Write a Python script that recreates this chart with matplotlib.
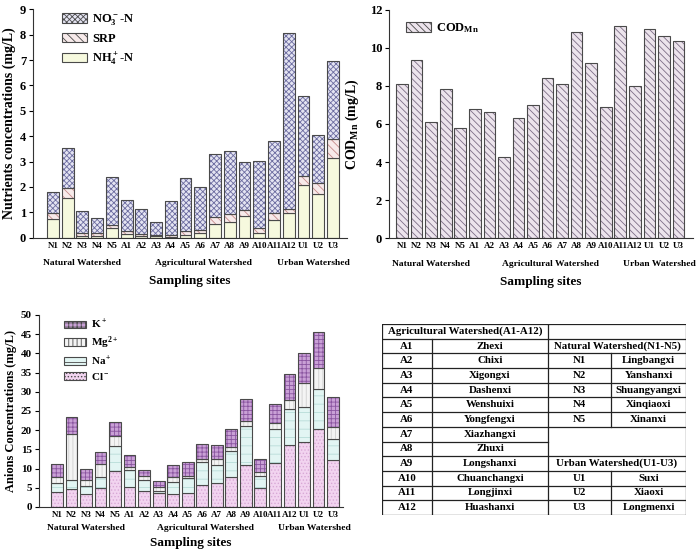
import matplotlib
matplotlib.use("Agg")
import matplotlib.pyplot as plt
import numpy as np

plt.rcParams['font.family'] = ['Liberation Serif', 'DejaVu Serif']
plt.rcParams['font.weight'] = 'bold'
plt.rcParams['axes.labelweight'] = 'bold'
plt.rcParams['mathtext.fontset'] = 'custom'
plt.rcParams['mathtext.rm'] = 'Liberation Serif:bold'
plt.rcParams['mathtext.it'] = 'Liberation Serif:bold'
plt.rcParams['mathtext.bf'] = 'Liberation Serif:bold'
plt.rcParams['hatch.linewidth'] = 0.6

sites = ["N1", "N2", "N3", "N4", "N5", "A1", "A2", "A3", "A4", "A5", "A6", "A7",
         "A8", "A9", "A10", "A11", "A12", "U1", "U2", "U3"]
groups = ["Natural Watershed", "Agricultural Watershed", "Urban Watershed"]
group_pos = [2.0, 10.2, 17.7]

# Nutrients (mg/L)
nh4 = [0.72, 1.58, 0.08, 0.05, 0.40, 0.15, 0.08, 0.05, 0.04, 0.12, 0.20, 0.53,
       0.63, 0.85, 0.17, 0.68, 0.98, 2.07, 1.73, 3.16]
srp = [0.25, 0.39, 0.12, 0.15, 0.12, 0.10, 0.06, 0.05, 0.06, 0.16, 0.12, 0.27,
       0.30, 0.23, 0.21, 0.28, 0.16, 0.38, 0.41, 0.72]
no3 = [0.85, 1.56, 0.87, 0.59, 1.88, 1.22, 0.98, 0.50, 1.34, 2.06, 1.67, 2.48,
       2.48, 1.92, 2.65, 2.86, 6.94, 3.15, 1.90, 3.08]

# COD_Mn (mg/L)
cod = [8.12, 9.35, 6.13, 7.85, 5.77, 6.80, 6.63, 4.27, 6.30, 7.00, 8.43, 8.12,
       10.83, 9.20, 6.92, 11.15, 8.00, 11.00, 10.62, 10.35]

# Ions (mg/L)
cl = [4.0, 4.7, 3.3, 5.0, 9.5, 5.3, 4.2, 3.6, 3.4, 3.6, 5.6, 6.3, 7.9, 11.0,
      4.9, 11.5, 16.1, 17.0, 20.4, 12.2]
na = [2.3, 2.3, 2.2, 2.8, 6.4, 4.4, 2.8, 0.5, 3.1, 3.9, 6.0, 4.6, 6.7, 10.1,
      3.2, 8.8, 9.4, 9.0, 10.3, 5.5]
mg = [1.5, 12.0, 1.6, 3.4, 2.5, 0.7, 1.1, 1.1, 1.3, 0.7, 1.0, 1.5, 1.0, 1.3,
      0.9, 1.5, 2.3, 6.2, 5.4, 3.2]
k = [3.4, 4.4, 2.9, 3.2, 3.8, 3.1, 1.6, 1.6, 3.2, 3.4, 3.7, 3.8, 4.7, 5.7,
     3.6, 5.0, 6.9, 7.9, 9.5, 7.7]

# Table contents
agri_codes = ["A1", "A2", "A3", "A4", "A5", "A6", "A7", "A8", "A9", "A10", "A11", "A12"]
agri_names = ["Zhexi", "Chixi", "Xigongxi", "Dashenxi", "Wenshuixi", "Yongfengxi",
              "Xiazhangxi", "Zhuxi", "Longshanxi", "Chuanchangxi", "Longjinxi", "Huashanxi"]
nat_codes = ["N1", "N2", "N3", "N4", "N5"]
nat_names = ["Lingbangxi", "Yanshanxi", "Shuangyangxi", "Xinqiaoxi", "Xinanxi"]
urb_codes = ["U1", "U2", "U3"]
urb_names = ["Suxi", "Xiaoxi", "Longmenxi"]

W, H = 699, 555
fig = plt.figure(figsize=(W / 100, H / 100), dpi=100)
x = np.arange(len(sites))
bw = 0.8
EDGE = '#4a4a4a'


def hbar(ax, vals, bottom, face, hatch, hcol):
    ax.bar(x, vals, bw, bottom=bottom, color=face, hatch=hatch, edgecolor=hcol,
           linewidth=0)
    ax.bar(x, vals, bw, bottom=bottom, fill=False, edgecolor=EDGE, linewidth=0.8)
    return plt.Rectangle((0, 0), 1, 1, facecolor=face, hatch=hatch, edgecolor=hcol, linewidth=0)


def style_axis(ax, ymax, ystep, ylabel, lpad, goff, soff, ysize=10.5, tsize=9):
    ax.spines['top'].set_visible(False)
    ax.spines['right'].set_visible(False)
    ax.spines['left'].set_color('#333333')
    ax.spines['bottom'].set_color('#333333')
    ax.set_ylim(0, ymax)
    ax.set_yticks(np.arange(0, ymax + 0.01, ystep))
    ax.set_xticks(x)
    ax.set_xticklabels(sites, fontsize=6.5, fontweight='bold')
    ax.tick_params(axis='x', length=0, pad=3)
    ax.tick_params(axis='y', labelsize=tsize, length=3, direction='out', width=0.8, pad=2)
    ax.set_ylabel(ylabel, fontsize=ysize, fontweight='bold', labelpad=lpad)
    for g, gp in zip(groups, group_pos):
        ax.annotate(g, xy=(gp, 0), xycoords=('data', 'axes fraction'),
                    xytext=(0, -goff), textcoords='offset points', ha='center', va='center',
                    fontsize=6.8, fontweight='bold')
    ax.annotate("Sampling sites", xy=(0.5, 0), xycoords='axes fraction',
                xytext=(0, -soff), textcoords='offset points', ha='center', va='center',
                fontsize=9.5, fontweight='bold')


def edge_legend(ax):
    for h in ax.get_legend().legend_handles:
        h.set_edgecolor(EDGE)
        h.set_linewidth(0.8)


# ---- Top-left: nutrients
ax1 = fig.add_axes([33 / W, 1 - 237.7 / H, 314 / W, 228.4 / H])
nh4a, srpa, no3a = map(np.array, (nh4, srp, no3))
p1 = hbar(ax1, nh4a, 0, '#f6f9de', None, '#f6f9de')
p2 = hbar(ax1, srpa, nh4a, '#f7eaea', '\\\\\\\\', '#c48a8a')
p3 = hbar(ax1, no3a, nh4a + srpa, '#e4e4f2', 'xxxxxx', '#6c6ca0')
ax1.set_xlim(-1.35, 19.95)
style_axis(ax1, 9, 1, "Nutrients concentrations (mg/L)", 3, 18.5, 31.5, ysize=10)
ax1.legend([p3, p2, p1], [r'NO$_3^-$-N', 'SRP', r'NH$_4^+$-N'], loc='upper left',
           bbox_to_anchor=(0.07, 1.02), frameon=False, fontsize=9, handlelength=2.0,
           handleheight=0.8, labelspacing=0.45, handletextpad=0.4, borderaxespad=0.2)
edge_legend(ax1)

# ---- Top-right: COD
ax2 = fig.add_axes([389 / W, 1 - 238 / H, 304 / W, 228 / H])
pc = hbar(ax2, np.array(cod), 0, '#ece4ec', '\\\\\\\\\\', '#7d6e86')
ax2.set_xlim(-0.9, 20.0)
style_axis(ax2, 12, 2, r'COD$_{\mathrm{Mn}}$ (mg/L)', 6, 18.5, 31.5, ysize=10)
ax2.legend([pc], [r'COD$_{\mathrm{Mn}}$'], loc='upper left', bbox_to_anchor=(0.02, 1.0),
           frameon=False, fontsize=9, handlelength=2.0, handleheight=0.8, handletextpad=0.4)
edge_legend(ax2)

# ---- Bottom-left: ions
ax3 = fig.add_axes([39 / W, 1 - 507 / H, 304 / W, 192 / H])
cla, naa, mga, ka = map(np.array, (cl, na, mg, k))
q1 = hbar(ax3, cla, 0, '#f2d4f0', '.....', '#d9a8d6')
q2 = hbar(ax3, naa, cla, '#e2f5f3', '--', '#b8dcd8')
q3 = hbar(ax3, mga, cla + naa, '#f4f4f4', '||||', '#cfcfcf')
q4 = hbar(ax3, ka, cla + naa + mga, '#c9a0d6', '++++', '#8a55a0')
ax3.set_xlim(-1.25, 19.7)
style_axis(ax3, 50, 5, "Anions Concentrations (mg/L)", 3, 15, 26, ysize=9, tsize=8)
ax3.legend([q4, q3, q2, q1], [r'K$^+$', r'Mg$^{2+}$', r'Na$^+$', r'Cl$^-$'], loc='upper left',
           bbox_to_anchor=(0.06, 1.02), frameon=False, fontsize=8, handlelength=2.0,
           handleheight=0.7, labelspacing=0.3, handletextpad=0.4, borderaxespad=0.2)
edge_legend(ax3)

# ---- Table
ax4 = fig.add_axes([382 / W, 1 - 515 / H, 304 / W, 191 / H])
ax4.set_xlim(0, 304)
ax4.set_ylim(13, 0)
ax4.axis('off')
c = [0, 50, 166, 229, 304]
lk = dict(color='#222222', linewidth=0.9, solid_capstyle='projecting')
for r in range(14):
    ax4.plot([c[0], c[2]], [r, r], **lk)
    if r != 8:
        ax4.plot([c[2], c[4]], [r, r], **lk)
ax4.plot([c[0], c[0]], [0, 13], **lk)
ax4.plot([c[4], c[4]], [0, 13], **lk)
ax4.plot([c[2], c[2]], [0, 13], **lk)
ax4.plot([c[1], c[1]], [1, 13], **lk)
ax4.plot([c[3], c[3]], [2, 7], **lk)
ax4.plot([c[3], c[3]], [10, 13], **lk)
tk = dict(ha='center', va='center', fontsize=7.8, fontweight='bold')
ax4.text((c[0] + c[2]) / 2, 0.5, "Agricultural Watershed(A1-A12)", **tk)
for i, (cd, nm) in enumerate(zip(agri_codes, agri_names)):
    ax4.text((c[0] + c[1]) / 2, i + 1.5, cd, **tk)
    ax4.text((c[1] + c[2]) / 2, i + 1.5, nm, **tk)
ax4.text((c[2] + c[4]) / 2, 1.5, "Natural Watershed(N1-N5)", **tk)
for i, (cd, nm) in enumerate(zip(nat_codes, nat_names)):
    ax4.text((c[2] + c[3]) / 2, i + 2.5, cd, **tk)
    ax4.text((c[3] + c[4]) / 2, i + 2.5, nm, **tk)
ax4.text((c[2] + c[4]) / 2, 9.5, "Urban Watershed(U1-U3)", **tk)
for i, (cd, nm) in enumerate(zip(urb_codes, urb_names)):
    ax4.text((c[2] + c[3]) / 2, i + 10.5, cd, **tk)
    ax4.text((c[3] + c[4]) / 2, i + 10.5, nm, **tk)

fig.savefig("out.png", dpi=100)
